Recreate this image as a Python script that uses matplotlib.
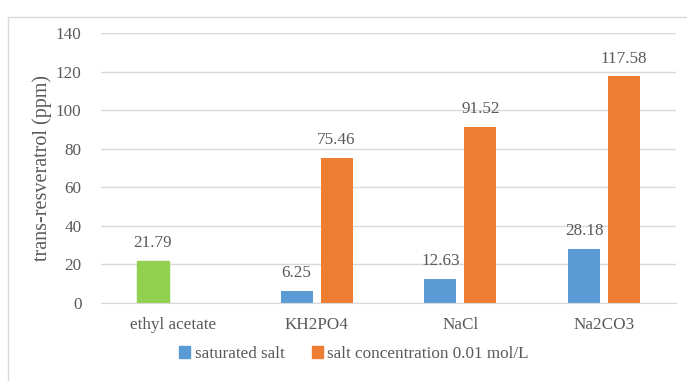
import numpy as np
import matplotlib.pyplot as plt
from matplotlib.patches import Rectangle, Patch

categories = ['ethyl acetate', 'KH2PO4', 'NaCl', 'Na2CO3']
saturated = [21.79, 6.25, 12.63, 28.18]
conc_001 = [np.nan, 75.46, 91.52, 117.58]
series_names = ['saturated salt', 'salt concentration 0.01 mol/L']

blue = '#5B9BD5'
orange = '#ED7D31'
green = '#92D050'
grey_text = '#595959'

plt.rcParams['font.family'] = ['Liberation Serif', 'DejaVu Serif']

fig = plt.figure(figsize=(6.87, 3.81), dpi=100)
ax = fig.add_axes([0.147, 0.2047, 0.837, 0.7083])

x = np.arange(len(categories))
w = 0.222
off = 0.139

b1 = ax.bar(x - off, saturated, w, color=blue)
b1[0].set_color(green)
b2 = ax.bar(x + off, conc_001, w, color=orange)

for xi, v in zip(x - off, saturated):
    ax.text(xi, v + 5, f'{v:.2f}', ha='center', va='bottom', fontsize=12.3, color=grey_text)
for xi, v in zip(x + off, conc_001):
    if not np.isnan(v):
        ax.text(xi, v + 5, f'{v:.2f}', ha='center', va='bottom', fontsize=12.3, color=grey_text)

ax.set_xlim(-0.5, len(categories) - 0.5)
ax.set_ylim(0, 140)
ax.set_yticks(range(0, 141, 20))
ax.set_xticks(x)
ax.set_xticklabels(categories)
ax.tick_params(axis='both', length=0, labelsize=12.3, colors=grey_text)
ax.tick_params(axis='y', pad=14)
ax.tick_params(axis='x', pad=10)
ax.grid(axis='y', color='#d9d9d9', linewidth=1)
ax.set_axisbelow(True)
for s in ['top', 'right', 'left']:
    ax.spines[s].set_visible(False)
ax.spines['bottom'].set_color('#d9d9d9')
ax.set_ylabel('trans-resveratrol (ppm)', fontsize=14.5, color=grey_text, labelpad=3)

handles = [Patch(color=blue), Patch(color=orange)]
fig.legend(handles, series_names, loc='center', bbox_to_anchor=(0.515, 0.071), ncol=2,
           frameon=False, fontsize=12.3, labelcolor=grey_text, handlelength=0.65,
           handleheight=0.65, handletextpad=0.25, columnspacing=1.6)

fig.patches.append(Rectangle((8 / 687, -0.1), 1.2, 1.1 - 17 / 381, transform=fig.transFigure,
                             fill=False, edgecolor='#d9d9d9', linewidth=1))

fig.savefig('out.png', dpi=100)
